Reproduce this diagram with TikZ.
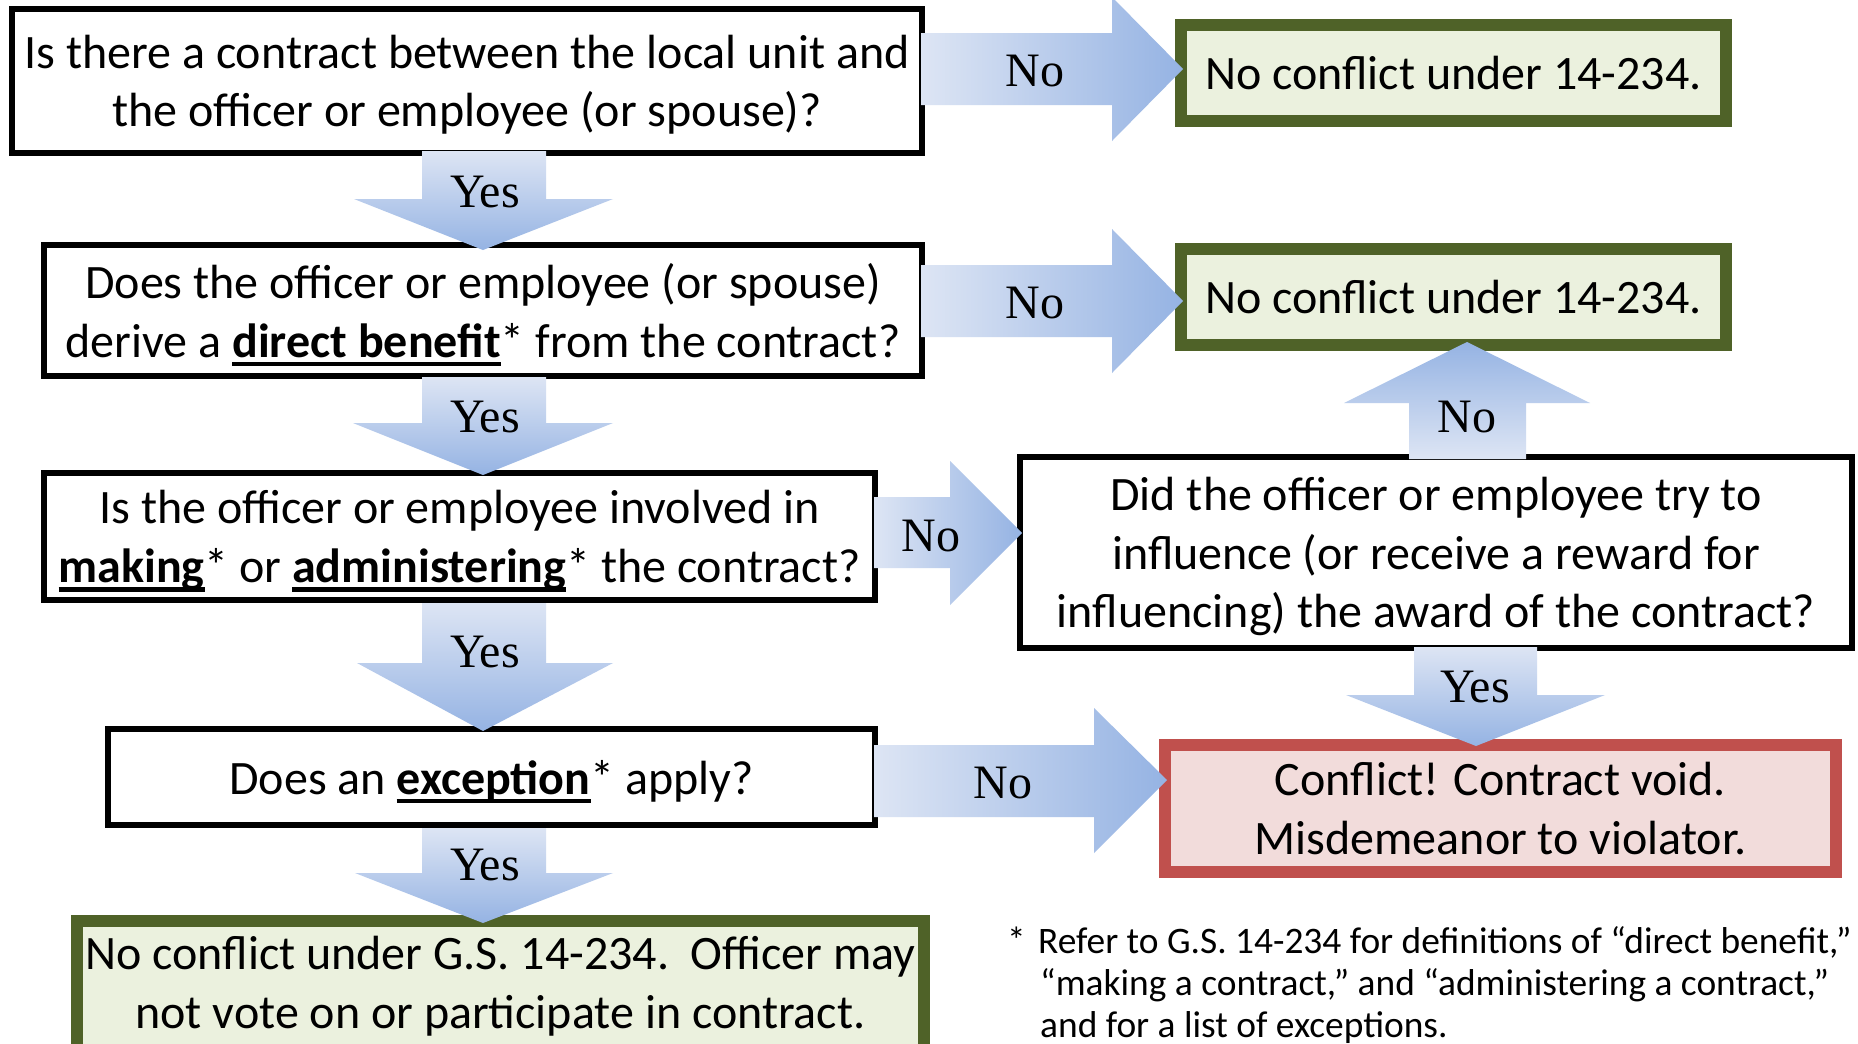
\documentclass[tikz,border=0pt]{standalone}
\usepackage{fontspec}
\setmainfont{Carlito}
\newfontfamily\tnr{Liberation Serif}
\definecolor{arrLight}{RGB}{221,229,244}
\definecolor{arrDark}{RGB}{149,179,227}
\definecolor{grnBorder}{RGB}{79,98,40}
\definecolor{grnFill}{RGB}{235,241,222}
\definecolor{redBorder}{RGB}{192,80,77}
\definecolor{redFill}{RGB}{242,220,219}
\newcommand{\ulb}[1]{\setbox0\hbox{\bfseries #1}\rlap{\rule[-0.19em]{\wd0}{0.09em}}\box0}
\newcommand{\nd}[1]{\raisebox{0pt}[\height][0pt]{#1}}
\begin{document}
\begin{tikzpicture}[x=1pt,y=-1pt,
  bigtext/.style={font=\fontsize{48}{58.5}\selectfont},
  qbox/.style={bigtext, draw=black, line width=6pt, fill=white, inner sep=0pt, align=center},
  gbox/.style={bigtext, draw=grnBorder, fill=grnFill, line width=12pt, inner sep=0pt, align=center},
  rbox/.style={bigtext, draw=redBorder, fill=redFill, line width=12pt, inner sep=0pt, align=center},
  lbl/.style={font=\tnr\fontsize{48}{58}\selectfont, inner sep=0pt},
  foot/.style={font=\fontsize{37.4}{42}\selectfont, anchor=base west, inner sep=0pt},
  arrR/.style={left color=arrLight, right color=arrDark},
  arrD/.style={top color=arrLight, bottom color=arrDark},
  arrU/.style={bottom color=arrLight, top color=arrDark}]
\useasboundingbox[fill=white] (0,0) rectangle (1858,1044);

% boxes
\node[qbox, minimum width=910pt, minimum height=144pt] (q1) at (467,81)
  {Is there a contract between the local unit and\\\nd{the officer or employee (or spouse)?}};
\node[qbox, minimum width=878pt, minimum height=131pt] (q2) at (483,310.5)
  {Does the officer or employee (or spouse)\\\nd{derive a \ulb{direct benefit}* from the contract?}};
\node[qbox, minimum width=831pt, minimum height=127pt] (q3) at (459.5,536.5)
  {Is the officer or employee involved in\\\nd{\ulb{making}* or \ulb{administering}* the contract?}};
\node[qbox, minimum width=767pt, minimum height=96pt] (q4) at (491.5,777)
  {\nd{Does an \ulb{exception}* apply?}};
\node[qbox, minimum width=832pt, minimum height=191pt] (q5) at (1436,552.5)
  {Did the officer or employee try to\\influence (or receive a reward for\\\nd{influencing) the award of the contract?}};
\node[gbox, minimum width=545pt, minimum height=96pt] (g1) at (1453.5,73)
  {No conflict under 14-234.};
\node[gbox, minimum width=545pt, minimum height=96pt] (g2) at (1453.5,297)
  {No conflict under 14-234.};
\node[rbox, minimum width=671pt, minimum height=127pt] (r) at (1500.5,808.5)
  {Conflict! Contract void.\\Misdemeanor to violator.};
\node[gbox, minimum width=847pt, minimum height=149pt] (g3) at (500.5,995.5) {};
\node[bigtext, align=center, inner sep=0pt] (g3text) at (500.5,986)
  {No conflict under G.S. 14-234.\ \ Officer may\\not vote on or participate in contract.};

% right arrows
\shade[arrR] (921,33) -- (1112,33) -- (1112,-3) -- (1183,69) -- (1112,141) -- (1112,105) -- (921,105) -- cycle;
\shade[arrR] (921,265) -- (1112,265) -- (1112,229) -- (1183,301) -- (1112,373) -- (1112,337) -- (921,337) -- cycle;
\shade[arrR] (874,497) -- (950,497) -- (950,461) -- (1022,533) -- (950,605) -- (950,568) -- (874,568) -- cycle;
\shade[arrR] (874,745) -- (1094,745) -- (1094,708) -- (1167,780) -- (1094,853) -- (1094,817) -- (874,817) -- cycle;
% down arrows
\shade[arrD] (422,151) -- (546,151) -- (546,199) -- (613,199) -- (483,250) -- (354,199) -- (422,199) -- cycle;
\shade[arrD] (422,377) -- (546,377) -- (546,423) -- (613,423) -- (483,475) -- (353,423) -- (422,423) -- cycle;
\shade[arrD] (422,603) -- (546,603) -- (546,663) -- (613,663) -- (483,731) -- (357,663) -- (422,663) -- cycle;
\shade[arrD] (422,828) -- (546,828) -- (546,873) -- (613,873) -- (483,923) -- (355,873) -- (422,873) -- cycle;
\shade[arrD] (1414,647) -- (1537,647) -- (1537,695) -- (1605,695) -- (1476,746) -- (1346,695) -- (1414,695) -- cycle;
% up arrow
\shade[arrU] (1409,459) -- (1526,459) -- (1526,403) -- (1590,403) -- (1467,342) -- (1344,403) -- (1409,403) -- cycle;

% arrow labels
\node[lbl] (no1) at (1035,71) {No};
\node[lbl] (no2) at (1035,303) {No};
\node[lbl] (no3) at (931,536) {No};
\node[lbl] (no4) at (1003,783) {No};
\node[lbl] (no5) at (1467,417) {No};
\node[lbl] (yes1) at (485,192) {Yes};
\node[lbl] (yes2) at (485,417) {Yes};
\node[lbl] (yes3) at (485,652) {Yes};
\node[lbl] (yes4) at (485,865) {Yes};
\node[lbl] (yes5) at (1475,687) {Yes};

% footnote
\node[foot] (star) at (1007,953) {*};
\node[foot] (f1) at (1038,953) {Refer to G.S. 14-234 for definitions of “direct benefit,”};
\node[foot] (f2) at (1040,995) {“making a contract,” and “administering a contract,”};
\node[foot] (f3) at (1040,1037) {and for a list of exceptions.};
\end{tikzpicture}
\end{document}
